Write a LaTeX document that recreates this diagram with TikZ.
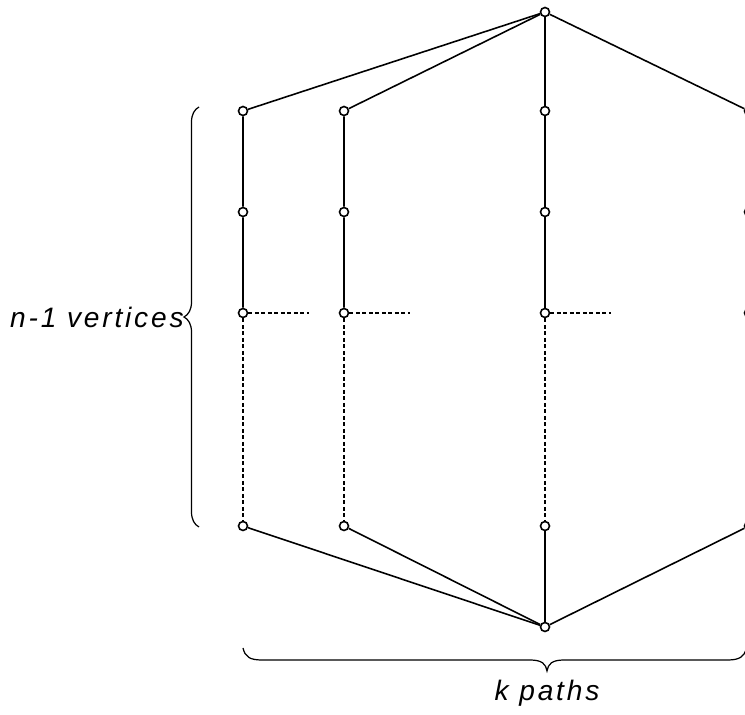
\documentclass[tikz,border=0pt]{standalone}
\usepackage{fontspec}
\setmainfont{Liberation Sans}
\usetikzlibrary{decorations.pathreplacing}

\tikzset{
  vtx/.style={circle, draw, fill=white, line width=0.9pt, inner sep=0pt, minimum size=0.18cm},
  edge/.style={line width=0.9pt},
  dashedge/.style={line width=0.6pt, dash pattern=on 2.2pt off 1.5pt},
  lbl/.style={font=\fontsize{16}{19}\selectfont\itshape\addfontfeature{LetterSpace=10}}
}

\begin{document}
\begin{tikzpicture}[x=0.02cm, y=-0.02cm]
  \clip (0,0) rectangle (745,715);

  % End vertices
  \node [vtx] (t) at (545,12) {};
  \node [vtx] (b) at (545,627) {};

  % The k paths between them
  \foreach \c/\x in {
    1/243,
    2/344,
    3/545,
    4/749
  } {
    \node [vtx] (p\c a) at (\x,111) {};
    \node [vtx] (p\c b) at (\x,212) {};
    \node [vtx] (p\c c) at (\x,313) {};
    \node [vtx] (p\c d) at (\x,526) {};
    \coordinate (p\c e) at (\x+66, 313);
    \draw [edge] (t) -- (p\c a) -- (p\c b) -- (p\c c);
    \draw [dashedge] (p\c c) -- (p\c d);
    \draw [edge] (p\c d) -- (b);
    \draw [dashedge] (p\c c) -- (p\c e);
  }

  % Braces
  \draw [line width=0.7pt, decorate, decoration={brace, amplitude=0.3cm}]
    (199,527) -- (199,107);
  \node [lbl, anchor=east, inner sep=0pt] (nlab) at (184,317) {n-1 vertices};
  \draw [line width=0.7pt]
    (243,648) .. controls (245,657) and (250,660) .. (262,660) -- (530,660)
    .. controls (542,660) and (546,664) .. (547,671)
    .. controls (548,664) and (552,660) .. (564,660) -- (728,660)
    .. controls (740,660) and (744,656) .. (746,650);
  \node [lbl] (klab) at (547,693) {k paths};

\end{tikzpicture}
\end{document}
